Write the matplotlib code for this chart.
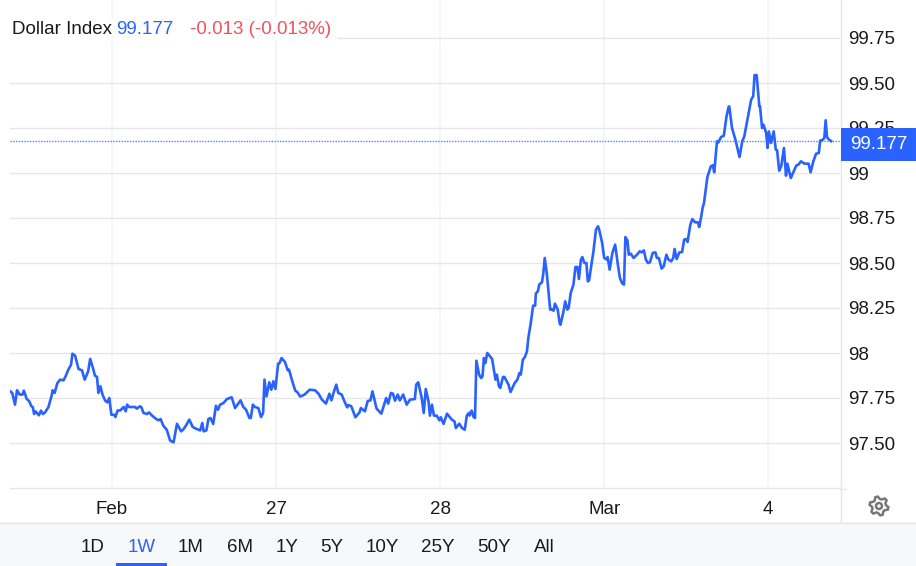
"""
Dollar Index, 1W view - redrawn from a chart screenshot.
Time is in hours from the "Feb" tick. Values read off the picture.
"""
import numpy as np
import matplotlib
matplotlib.use("Agg")
import matplotlib.pyplot as plt
from matplotlib.patches import Rectangle, Polygon, Circle

plt.rcParams["font.family"] = ["Liberation Sans", "DejaVu Sans"]

# ---------------------------------------------------------------------------
#  Data
# ---------------------------------------------------------------------------
hours_1 = [-14.9, -14.6, -14.2, -13.9, -13.5, -13.1, -12.9, -12.5, -12.1, -11.8, -11.6, -11.4,
           -11.2, -10.7, -10.4, -10.1, -9.8, -9.3, -8.8, -8.7, -8.4, -8.0, -7.6, -7.1,
           -6.8, -6.4, -6.0, -5.8, -5.4, -4.9, -4.4, -4.0, -3.6, -3.5, -3.2, -2.8,
           -2.5, -2.2, -2.0, -1.7, -1.4, -1.0, -0.7, -0.4, -0.1]
value_1 = [97.787, 97.778, 97.713, 97.793, 97.769, 97.769, 97.791, 97.746, 97.731, 97.704, 97.700, 97.661,
           97.676, 97.654, 97.680, 97.661, 97.670, 97.700, 97.769, 97.793, 97.778, 97.833, 97.852, 97.848,
           97.870, 97.907, 97.935, 97.996, 97.985, 97.911, 97.904, 97.852, 97.889, 97.898, 97.967, 97.917,
           97.874, 97.867, 97.778, 97.815, 97.769, 97.735, 97.726, 97.750, 97.657]

hours_2 = [0.3, 0.5, 0.8, 1.2, 1.7, 2.0, 2.2, 2.5, 3.4, 3.6, 4.1, 4.3,
           4.6, 5.1, 5.4, 5.8, 6.4, 6.8, 7.1, 7.5, 8.0, 8.5, 9.0, 9.5,
           10.1, 10.4, 10.8, 11.3, 11.8, 12.2, 12.9, 13.2, 13.4, 13.8, 14.1, 14.4,
           14.8, 15.2, 15.5, 15.8, 16.3, 16.8, 17.5, 18.0, 18.8, 19.2, 19.6, 20.1,
           20.3, 20.6, 20.9, 21.4, 21.8, 22.1, 22.3, 22.6, 23.0, 23.3, 23.6, 23.9]
value_2 = [97.657, 97.644, 97.680, 97.681, 97.700, 97.676, 97.713, 97.700, 97.700, 97.691, 97.704, 97.698,
           97.667, 97.661, 97.670, 97.654, 97.635, 97.626, 97.633, 97.596, 97.574, 97.513, 97.504, 97.607,
           97.565, 97.574, 97.596, 97.630, 97.589, 97.581, 97.570, 97.611, 97.565, 97.570, 97.633, 97.639,
           97.606, 97.707, 97.685, 97.713, 97.722, 97.744, 97.754, 97.694, 97.737, 97.700, 97.685, 97.639,
           97.639, 97.713, 97.700, 97.694, 97.644, 97.667, 97.852, 97.759, 97.837, 97.796, 97.843, 97.800]

hours_3 = [24.3, 24.5, 24.8, 25.3, 25.7, 25.9, 26.3, 26.8, 27.1, 27.5, 27.6, 28.2,
           28.9, 29.7, 30.2, 30.7, 31.3, 31.8, 32.1, 32.4, 32.8, 33.1, 33.6, 34.0,
           34.4, 34.6, 35.0, 35.6, 36.2, 36.4, 37.0, 37.4, 37.8, 38.1, 38.7, 39.4,
           40.1, 40.4, 40.8, 41.1, 41.4, 41.8, 42.1, 42.6, 43.1, 43.6, 44.3, 44.5,
           44.8, 45.3, 45.6, 45.9, 46.3, 46.5, 46.8, 47.1, 47.5, 47.9]
value_3 = [97.941, 97.944, 97.972, 97.950, 97.904, 97.907, 97.852, 97.791, 97.783, 97.759, 97.759, 97.770,
           97.796, 97.793, 97.774, 97.741, 97.719, 97.774, 97.737, 97.778, 97.824, 97.778, 97.769, 97.731,
           97.698, 97.711, 97.704, 97.643, 97.670, 97.694, 97.676, 97.733, 97.737, 97.787, 97.691, 97.663,
           97.750, 97.719, 97.778, 97.774, 97.735, 97.769, 97.737, 97.769, 97.713, 97.741, 97.744, 97.824,
           97.837, 97.750, 97.667, 97.800, 97.731, 97.652, 97.713, 97.652, 97.652, 97.626]

hours_4 = [48.1, 48.5, 49.0, 49.7, 50.1, 50.3, 50.8, 51.2, 51.6, 51.9, 52.2, 52.3,
           52.6, 52.9, 53.1, 53.3, 53.7, 54.0, 54.2, 54.4, 54.6, 54.9, 55.6, 56.1,
           56.3, 56.6, 56.8, 57.2, 57.4, 58.0, 58.3, 58.9, 59.3, 59.6, 59.8, 60.1,
           60.4, 60.7, 60.9, 61.3, 61.6, 61.9, 62.0, 62.3, 62.5, 62.9, 63.1, 63.3,
           63.6, 64.1, 64.3, 64.6, 64.8, 65.2, 65.5, 65.6, 66.0, 66.3, 66.6, 66.8,
           67.1, 67.5, 67.8, 68.1, 68.3, 68.6, 68.8, 69.1, 69.4, 69.6, 69.8, 70.2,
           70.4, 70.8, 71.1, 71.3, 71.7]
value_4 = [97.643, 97.606, 97.663, 97.630, 97.620, 97.583, 97.607, 97.583, 97.574, 97.652, 97.667, 97.652,
           97.680, 97.644, 97.639, 97.957, 97.880, 97.861, 97.870, 97.972, 97.944, 98.000, 97.967, 97.852,
           97.880, 97.815, 97.806, 97.867, 97.867, 97.824, 97.783, 97.833, 97.852, 97.889, 97.880, 97.963,
           97.978, 98.009, 98.083, 98.176, 98.263, 98.263, 98.330, 98.343, 98.380, 98.393, 98.444, 98.528,
           98.444, 98.241, 98.244, 98.235, 98.274, 98.241, 98.163, 98.157, 98.222, 98.287, 98.241, 98.250,
           98.333, 98.380, 98.478, 98.478, 98.411, 98.519, 98.533, 98.500, 98.500, 98.398, 98.404, 98.509,
           98.556, 98.685, 98.704, 98.681, 98.611]

hours_5 = [72.0, 72.4, 72.5, 72.8, 73.2, 73.6, 74.0, 74.3, 74.6, 74.9, 75.1, 75.4,
           75.6, 75.9, 76.3, 76.8, 77.2, 77.5, 77.8, 78.1, 78.4, 78.7, 79.1, 79.5,
           79.7, 80.0, 80.4, 80.7, 81.1, 81.4, 81.8, 82.1, 82.3, 82.6, 83.0, 83.4,
           83.7, 84.0, 84.2, 84.6, 84.9, 85.3, 85.7, 85.9, 86.2, 86.4, 86.6, 87.1,
           87.6, 87.9, 88.1, 88.5, 88.7, 89.1, 89.5, 89.9, 90.2, 90.3, 90.7, 91.2,
           91.8, 92.2, 92.5, 93.0, 93.5, 93.8, 94.0, 94.3, 94.7, 94.8, 95.1, 95.3,
           95.7, 95.9]
value_5 = [98.528, 98.519, 98.533, 98.463, 98.556, 98.602, 98.491, 98.417, 98.389, 98.380, 98.644, 98.626,
           98.546, 98.552, 98.528, 98.546, 98.565, 98.559, 98.570, 98.519, 98.500, 98.504, 98.556, 98.559,
           98.528, 98.528, 98.469, 98.481, 98.546, 98.519, 98.509, 98.528, 98.578, 98.522, 98.559, 98.561,
           98.630, 98.633, 98.617, 98.713, 98.744, 98.726, 98.726, 98.700, 98.759, 98.806, 98.833, 98.978,
           99.037, 99.043, 99.004, 99.176, 99.170, 99.200, 99.207, 99.315, 99.367, 99.370, 99.250, 99.185,
           99.089, 99.176, 99.204, 99.306, 99.407, 99.426, 99.544, 99.544, 99.370, 99.370, 99.250, 99.269,
           99.222, 99.139]

hours_6 = [96.1, 96.4, 96.8, 97.1, 97.3, 97.6, 97.9, 98.3, 98.6, 98.8, 99.3, 100.1,
           100.4, 100.8, 101.3, 101.9, 102.2, 102.6, 103.0, 103.4, 103.6, 104.0, 104.2, 104.4,
           104.6, 104.8, 105.2]
value_6 = [99.231, 99.167, 99.231, 99.130, 99.126, 99.013, 99.037, 99.139, 98.985, 99.052, 98.972, 99.041,
           99.046, 99.065, 99.052, 99.052, 99.004, 99.065, 99.107, 99.111, 99.180, 99.185, 99.194, 99.293,
           99.200, 99.189, 99.177]

last_price = 99.177
x_ticks = [0, 24, 48, 72, 96]
x_labels = ["Feb", "27", "28", "Mar", "4"]
y_ticks = [97.5, 97.75, 98, 98.25, 98.5, 98.75, 99, 99.25, 99.5, 99.75]
y_labels = ["97.50", "97.75", "98", "98.25", "98.50", "98.75", "99", "99.25", "99.50", "99.75"]
ranges = ["1D", "1W", "1M", "6M", "1Y", "5Y", "10Y", "25Y", "50Y", "All"]
range_x = [93, 142, 191, 240, 287, 332, 382, 438, 494, 544]

BLUE = "#2962ff"
RED = "#f0535b"
TEXT = "#1a1a1a"
HGRID = "#e6e6e6"
VGRID = "#f0f3fa"
FS = 13.5

hours = np.concatenate([hours_1, hours_2, hours_3, hours_4, hours_5, hours_6])
values = np.concatenate([value_1, value_2, value_3, value_4, value_5, value_6])

# ---------------------------------------------------------------------------
#  Plotting
# ---------------------------------------------------------------------------
W, H = 916, 566
fig = plt.figure(figsize=(W / 100, H / 100), dpi=100)

# chrome layer in pixel coordinates (range bar, price box, gear)
ui = fig.add_axes([0, 0, 1, 1], zorder=1)
ui.set_xlim(0, W); ui.set_ylim(H, 0); ui.axis("off")
ui.add_patch(Rectangle((0, 522), W, 44, fc="#f7f8fa", ec="none"))
ui.plot([0, W], [522.5, 522.5], color=HGRID, lw=1)
ui.plot([840.5, 840.5], [0, 522], color=HGRID, lw=1)
ui.plot([840, 846], [488.5, 488.5], color=HGRID, lw=1)
for label, x in zip(ranges, range_x):
    ui.text(x, 548, label, ha="center", va="center", fontsize=FS,
            color=BLUE if label == "1W" else TEXT)
ui.add_patch(Rectangle((116, 563), 51, 3, fc=BLUE, ec="none"))

# settings gear
angles = np.radians(np.arange(0, 360, 15) + 7.5)
radii = np.array([9.5, 9.5, 7, 7] * 6)
ui.add_patch(Polygon(np.c_[879 + radii * np.cos(angles), 506 + radii * np.sin(angles)],
                     closed=True, fc="none", ec="#777777", lw=1.8))
ui.add_patch(Circle((879, 506), 3, fc="none", ec="#777777", lw=1.8))

# main chart
left, right, top, bottom = 10, 840, 0, 488
ax = fig.add_axes([left / W, 1 - bottom / H, (right - left) / W, (bottom - top) / H], zorder=2)
ax.patch.set_alpha(0)
ax.set_xlim(-14.93, 106.5)
ax.set_ylim(97.25, 99 + 173 / 180)
ax.plot(hours, values, color=BLUE, lw=1.9, solid_joinstyle="round", zorder=3)
ax.axhline(last_price, color=BLUE, ls=(0, (1, 1)), lw=1, alpha=0.8, zorder=2)

ax.set_xticks(x_ticks, x_labels)
ax.yaxis.tick_right()
ax.set_yticks(y_ticks, y_labels)
ax.tick_params(axis="x", length=0, pad=9.5, labelsize=FS, labelcolor=TEXT)
ax.tick_params(axis="y", length=0, pad=6, labelsize=FS, labelcolor=TEXT)
ax.grid(True, axis="y", color=HGRID, lw=1)
ax.grid(True, axis="x", color=VGRID, lw=1.2)
ax.set_axisbelow(True)
for side in ["top", "left", "right"]:
    ax.spines[side].set_visible(False)
ax.spines["bottom"].set_color(HGRID)
ax.spines["bottom"].set_linewidth(1)

# legend header and price box go over the grid and tick labels
over = fig.add_axes([0, 0, 1, 1], zorder=3)
over.set_xlim(0, W); over.set_ylim(H, 0); over.axis("off")
over.add_patch(Rectangle((5, 18), 332, 23, fc="white", ec="none"))
over.text(12, 30, "Dollar Index", va="center", fontsize=FS, color=TEXT)
over.text(116, 30, f"{last_price:.3f}", va="center", fontsize=FS, color=BLUE)
over.text(190, 30, "-0.013 (-0.013%)", va="center", fontsize=FS, color=RED)
over.add_patch(Rectangle((841, 128), 75, 33, fc=BLUE, ec="none"))
over.text(850, 144.5, f"{last_price:.3f}", va="center", fontsize=FS, color="white")

fig.savefig("out.png", dpi=100)
